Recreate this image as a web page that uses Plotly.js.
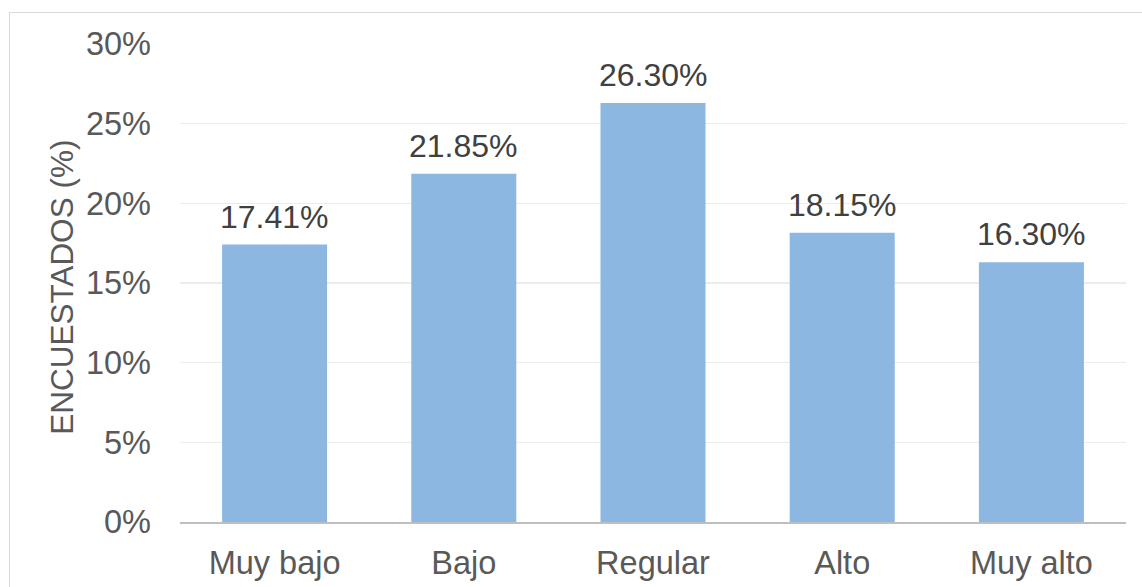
<!DOCTYPE html>
<html><head><meta charset="utf-8">
<script src="https://cdn.plot.ly/plotly-3.0.1.min.js"></script>
<style>
html,body{margin:0;padding:0;background:#fff;overflow:hidden;}
#frame{position:absolute;left:9px;top:12px;width:1200px;height:700px;border:1.5px solid #d9d9d9;box-sizing:border-box;}
#chart{position:absolute;left:0;top:0;width:1142px;height:587px;}
</style></head>
<body>
<div id="frame"></div>
<div id="chart"></div>
<script>
const categories = ["Muy bajo", "Bajo", "Regular", "Alto", "Muy alto"];
const values = [17.41, 21.85, 26.30, 18.15, 16.30];
const yTickVals = [0, 5, 10, 15, 20, 25, 30];
const yTickText = ["0%", "5%", "10%", "15%", "20%", "25%", "30%"];
const yTitle = "ENCUESTADOS (%)";

const trace = {
  type: "bar",
  x: categories,
  y: values,
  marker: {color: "#8cb7e0"},
  hoverinfo: "none"
};

const FONT = "Liberation Sans, Arial, sans-serif";

const labelAnnotations = categories.map((c, i) => ({
  x: c, y: values[i], xref: "x", yref: "y",
  text: values[i].toFixed(2) + "%",
  showarrow: false, xanchor: "center", yanchor: "bottom", yshift: 8,
  font: {family: FONT, size: 32, color: "#404040"}
}));

const layout = {
  width: 1142, height: 587,
  margin: {l: 180, r: 16, t: 44, b: 65},
  paper_bgcolor: "rgba(0,0,0,0)",
  plot_bgcolor: "rgba(0,0,0,0)",
  bargap: 0.445,
  showlegend: false,
  font: {family: FONT, size: 32, color: "#595959"},
  xaxis: {
    showgrid: false,
    showline: true, linecolor: "#bfbfbf", linewidth: 2,
    ticks: "", tickfont: {size: 32.5, color: "#595959"},
    ticklabelstandoff: 11,
    zeroline: false
  },
  yaxis: {
    range: [0, 30],
    tickvals: yTickVals, ticktext: yTickText,
    showgrid: true, gridcolor: "#ececec", gridwidth: 1.5,
    zeroline: false, showline: false,
    ticks: "", tickfont: {size: 32.5, color: "#595959"},
    ticklabelstandoff: 28
  },
  annotations: [{
    text: yTitle, xref: "paper", yref: "paper",
    x: -0.1247, y: 0.49, xanchor: "center", yanchor: "middle",
    textangle: -90, showarrow: false,
    font: {size: 31.5, color: "#595959"}
  }].concat(labelAnnotations)
};

Plotly.newPlot("chart", [trace], layout, {displayModeBar: false, staticPlot: true});
</script>
</body></html>
